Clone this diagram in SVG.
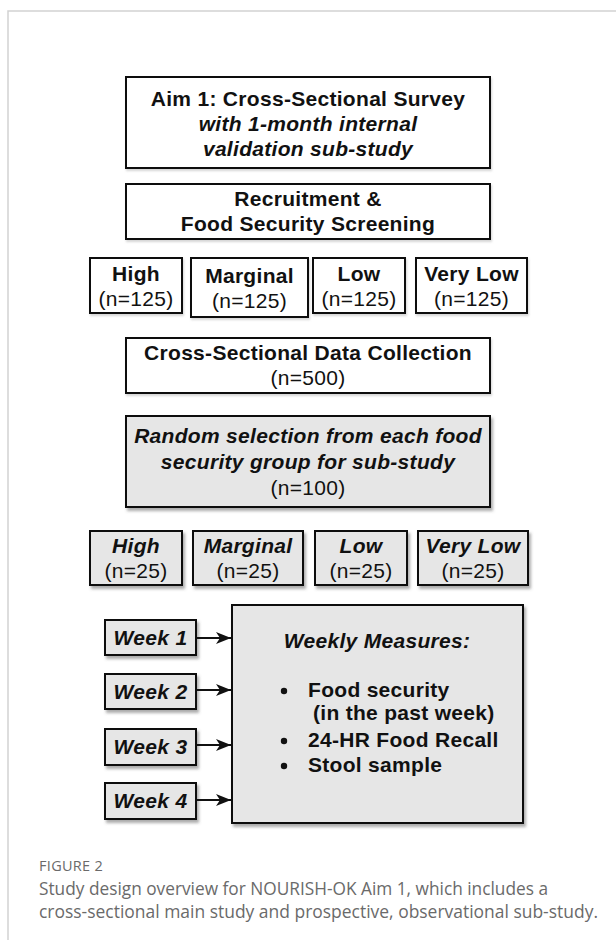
<svg xmlns="http://www.w3.org/2000/svg" width="616" height="940" viewBox="0 0 616 940">
<defs>
<style>
.bx{fill:#ffffff;stroke:#111;stroke-width:2;}
.gy{fill:#e6e6e6;stroke:#111;stroke-width:2;}
.t{font-family:"Liberation Sans",Arial,sans-serif;font-size:21px;fill:#111;text-anchor:middle;letter-spacing:0.3px;}
.b{font-weight:bold;}
.i{font-style:italic;}
.l{text-anchor:start;}
.cap{font-family:"Open Sans","Liberation Sans",sans-serif;fill:#6a6a6a;}
.conn{stroke:#111;stroke-width:2;fill:none;}
</style>
<filter id="sh" x="-10%" y="-10%" width="125%" height="130%">
<feDropShadow dx="2" dy="3" stdDeviation="1.5" flood-color="#666" flood-opacity="0.55"/>
</filter>
<filter id="shl" x="-10%" y="-10%" width="125%" height="130%">
<feDropShadow dx="1" dy="2" stdDeviation="1.2" flood-color="#999" flood-opacity="0.4"/>
</filter>
<marker id="arr" markerUnits="userSpaceOnUse" markerWidth="16" markerHeight="12" refX="15" refY="6" orient="auto">
<path d="M0,0 L15,6 L0,12 L4,6 Z" fill="#111"/>
</marker>
</defs>
<rect width="616" height="940" fill="#fff"/>
<path d="M8,940 L8,11 L616,11" fill="none" stroke="#d2d2d2" stroke-width="1.5"/>

<g id="aim">
<rect class="bx" x="126" y="77" width="364" height="91" filter="url(#shl)"/>
<text class="t b" x="308" y="106">Aim 1: Cross-Sectional Survey</text>
<text class="t b i" x="308" y="131">with 1-month internal</text>
<text class="t b i" x="308" y="156">validation sub-study</text>
</g>
<g id="recruit">
<rect class="bx" x="126" y="184" width="364" height="55" filter="url(#shl)"/>
<text class="t b" x="308" y="206">Recruitment &amp;</text>
<text class="t b" x="308" y="231">Food Security Screening</text>
</g>
<g id="high1">
<rect class="bx" x="90" y="258" width="92" height="55" filter="url(#shl)"/>
<text class="t b" x="136" y="281">High</text>
<text class="t" x="136" y="306">(n=125)</text>
</g>
<g id="marginal1">
<rect class="bx" x="191" y="258" width="117" height="59" filter="url(#shl)"/>
<text class="t b" x="249.5" y="283">Marginal</text>
<text class="t" x="249.5" y="308">(n=125)</text>
</g>
<g id="low1">
<rect class="bx" x="313" y="258" width="92" height="55" filter="url(#shl)"/>
<text class="t b" x="359" y="281">Low</text>
<text class="t" x="359" y="306">(n=125)</text>
</g>
<g id="verylow1">
<rect class="bx" x="416" y="258" width="111" height="55" filter="url(#shl)"/>
<text class="t b" x="471.5" y="281">Very Low</text>
<text class="t" x="471.5" y="306">(n=125)</text>
</g>
<g id="cross">
<rect class="bx" x="126" y="338" width="364" height="55" filter="url(#shl)"/>
<text class="t b" x="308" y="360">Cross-Sectional Data Collection</text>
<text class="t" x="308" y="385">(n=500)</text>
</g>
<g id="random">
<rect class="gy" x="126" y="416" width="364" height="91" filter="url(#sh)"/>
<text class="t b i" x="308" y="443">Random selection from each food</text>
<text class="t b i" x="308" y="469">security group for sub-study</text>
<text class="t" x="308" y="495">(n=100)</text>
</g>
<g id="high2">
<rect class="gy" x="90" y="531" width="92" height="54" filter="url(#sh)"/>
<text class="t b i" x="136" y="553">High</text>
<text class="t" x="136" y="578">(n=25)</text>
</g>
<g id="marginal2">
<rect class="gy" x="193" y="531" width="110" height="54" filter="url(#sh)"/>
<text class="t b i" x="248" y="553">Marginal</text>
<text class="t" x="248" y="578">(n=25)</text>
</g>
<g id="low2">
<rect class="gy" x="315" y="531" width="92" height="54" filter="url(#sh)"/>
<text class="t b i" x="361" y="553">Low</text>
<text class="t" x="361" y="578">(n=25)</text>
</g>
<g id="verylow2">
<rect class="gy" x="418" y="531" width="110" height="54" filter="url(#sh)"/>
<text class="t b i" x="473" y="553">Very Low</text>
<text class="t" x="473" y="578">(n=25)</text>
</g>
<g id="weekly">
<rect class="gy" x="232" y="605" width="291" height="218" filter="url(#sh)"/>
<text class="t b i" x="377" y="648">Weekly Measures:</text>
<circle cx="284" cy="691" r="3.2" fill="#111"/>
<text class="t b l" x="308" y="697">Food security</text>
<text class="t b l" x="313" y="720">(in the past week)</text>
<circle cx="284" cy="741" r="3.2" fill="#111"/>
<text class="t b l" x="308" y="747">24-HR Food Recall</text>
<circle cx="284" cy="766" r="3.2" fill="#111"/>
<text class="t b l" x="308" y="772">Stool sample</text>
</g>
<g id="week1">
<rect class="gy" x="105" y="620" width="91" height="35" filter="url(#sh)"/>
<text class="t b i" x="150.5" y="645">Week 1</text>
</g>
<g id="week2">
<rect class="gy" x="105" y="674" width="91" height="35" filter="url(#sh)"/>
<text class="t b i" x="150.5" y="699">Week 2</text>
</g>
<g id="week3">
<rect class="gy" x="105" y="729" width="91" height="36" filter="url(#sh)"/>
<text class="t b i" x="150.5" y="754">Week 3</text>
</g>
<g id="week4">
<rect class="gy" x="105" y="783" width="91" height="36" filter="url(#sh)"/>
<text class="t b i" x="150.5" y="808">Week 4</text>
</g>

<g id="connectors">
<line class="conn" x1="197" y1="638" x2="231" y2="638" marker-end="url(#arr)"/>
<line class="conn" x1="197" y1="690" x2="231" y2="690" marker-end="url(#arr)"/>
<line class="conn" x1="197" y1="745" x2="231" y2="745" marker-end="url(#arr)"/>
<line class="conn" x1="197" y1="800" x2="231" y2="800" marker-end="url(#arr)"/>
</g>

<g id="caption">
<text class="cap" x="39" y="871" font-size="14.5" letter-spacing="0.3">FIGURE 2</text>
<text class="cap" x="39" y="895" font-size="17.3" textLength="509" lengthAdjust="spacingAndGlyphs">Study design overview for NOURISH-OK Aim 1, which includes a</text>
<text class="cap" x="39" y="918" font-size="17.3" textLength="559" lengthAdjust="spacingAndGlyphs">cross-sectional main study and prospective, observational sub-study.</text>
</g>
</svg>
